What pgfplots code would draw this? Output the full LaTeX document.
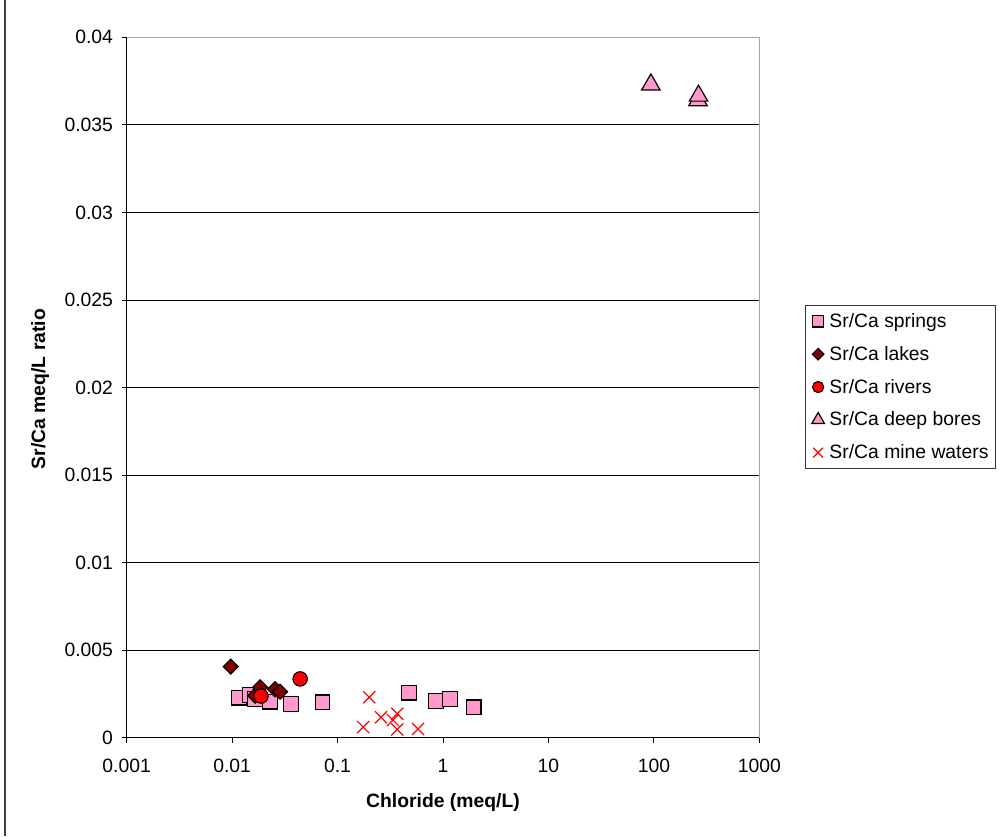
\documentclass[border=0pt]{standalone}
\usepackage{fontspec}
\setmainfont{Liberation Sans}
\usepackage{pgfplots}
\pgfplotsset{compat=1.18}
\definecolor{springpink}{RGB}{255,153,204}
\definecolor{lakered}{RGB}{128,0,0}
\begin{document}
\begin{tikzpicture}
\useasboundingbox (0,0) rectangle (749.25pt,627pt);
\draw[line width=0.9pt, black!75] (3.75pt,0) -- (3.75pt,627pt);
\begin{axis}[
  name=main,
  at={(95pt,73.7pt)}, anchor=south west,
  scale only axis,
  width=474.5pt, height=525.3pt,
  xmode=log,
  xmin=0.001, xmax=1000,
  ymin=0, ymax=0.04,
  scaled y ticks=false,
  xtick={0.001,0.01,0.1,1,10,100,1000},
  xticklabels={0.001,0.01,0.1,1,10,100,1000},
  ytick={0,0.005,0.01,0.015,0.02,0.025,0.03,0.035,0.04},
  yticklabels={0,0.005,0.01,0.015,0.02,0.025,0.03,0.035,0.04},
  minor tick num=0,
  xminorticks=false,
  tick align=outside,
  xtick pos=bottom, ytick pos=left,
  major tick length=3.75pt,
  tick style={black, line width=0.6pt},
  axis line style={gray!70, line width=0.6pt},
  ymajorgrids,
  major grid style={black, line width=0.6pt},
  ticklabel style={font=\fontsize{14.5}{17}\selectfont},
  xticklabel style={yshift=-9pt},
  yticklabel style={xshift=-3pt},
  clip=false,
  legend cell align=left,
  legend style={
    at={(rel axis cs:1.0723,0.6178)}, anchor=north west,
    font=\fontsize{14.5}{17}\selectfont,
    draw=black!80, line width=0.6pt,
    row sep=8.6pt,
    inner xsep=3pt, inner ysep=4pt,
  },
  legend image code/.code={\path[draw=none,fill=none] (0pt,-1pt) rectangle (13pt,1pt); \draw[#1] plot coordinates {(6.5pt,0pt)};},
  legend image post style={mark size=4.2pt},
]
\draw[black, line width=0.8pt] (rel axis cs:0,0) -- (rel axis cs:0,1);
\draw[black, line width=0.8pt] (rel axis cs:0,0) -- (rel axis cs:1,0);

\addplot[only marks, mark=square*, mark size=5.5pt,
  mark options={fill=springpink, draw=black, line width=0.9pt}]
coordinates {
(0.0116,0.00229) (0.0148,0.00244) (0.0165,0.00220) (0.0229,0.00206)
(0.036,0.00193) (0.072,0.00202) (0.478,0.00257) (0.86,0.00210)
(1.17,0.00220) (1.95,0.00174)
};
\addlegendentry{Sr/Ca springs}

\addplot[only marks, mark=square*, mark size=4pt,
  mark options={rotate=45, fill=lakered, draw=black, line width=0.8pt},
  legend image post style={mark size=3.1pt}]
coordinates {
(0.0097,0.00406) (0.0165,0.00240) (0.0184,0.00288) (0.0255,0.00277) (0.0285,0.00263)
};
\addlegendentry{Sr/Ca lakes}

\addplot[only marks, mark=*, mark size=5.4pt,
  mark options={fill=red, draw=black, line width=0.8pt}]
coordinates {
(0.0442,0.00336) (0.0188,0.00238)
};
\addlegendentry{Sr/Ca rivers}

\addplot[only marks, mark=triangle*, mark size=8pt,
  mark options={fill=springpink, draw=black, line width=0.9pt},
  legend image post style={mark size=5.5pt}]
coordinates {
(93.6,0.0373) (262,0.0364) (265,0.03666)
};
\addlegendentry{Sr/Ca deep bores}

\addplot[only marks, mark=x, mark size=6.4pt,
  mark options={draw=red, line width=0.9pt},
  legend image post style={mark size=5.2pt}]
coordinates {
(0.200,0.00231) (0.175,0.00061) (0.258,0.00117) (0.368,0.00137)
(0.335,0.00101) (0.368,0.00047) (0.58,0.00050)
};
\addlegendentry{Sr/Ca mine waters}
\end{axis}
\node[font=\bfseries\fontsize{14.5}{17}\selectfont] at (332.25pt,25pt) {Chloride (meq/L)};
\node[font=\bfseries\fontsize{14.5}{17}\selectfont, rotate=90] at (30pt,335.2pt) {Sr/Ca meq/L ratio};
\end{tikzpicture}
\end{document}
